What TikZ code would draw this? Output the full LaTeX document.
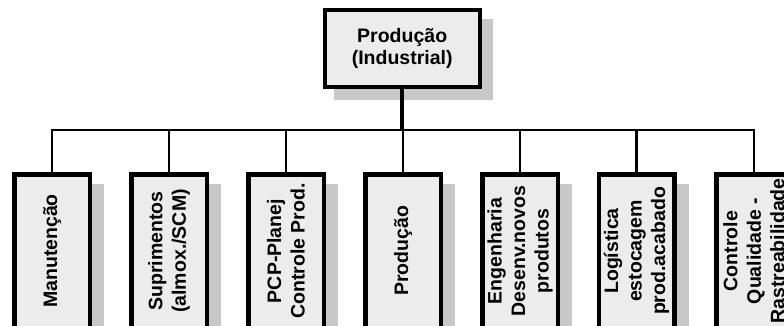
\documentclass[tikz,border=0pt]{standalone}
\usepackage{fontspec}
\setmainfont{Liberation Sans}
\usetikzlibrary{backgrounds}
\definecolor{boxfill}{HTML}{ECECEC}
\definecolor{shadowc}{HTML}{C8C8C8}
\begin{document}
\begin{tikzpicture}[x=1pt,y=-1pt,
  topbox/.style={draw=black,line width=4pt,fill=boxfill,minimum width=155pt,minimum height=76.7pt,inner sep=0pt,align=center,font=\bfseries\fontsize{19.5}{22}\selectfont},
  subbox/.style={draw=black,line width=4.5pt,fill=boxfill,rotate=90,minimum width=153.5pt,minimum height=75.5pt,inner sep=0pt,align=center,font=\bfseries\fontsize{19.5}{23.5}\selectfont},
  link/.style={line width=2.8pt},
  stemtop/.style={line width=4pt},
  shadowfill/.style={fill=shadowc}]
\useasboundingbox (0,0) rectangle (784,326);
\node[topbox] (top) at (402.2,48.6) {Produção\\(Industrial)};
\node[subbox] (b1) at (52,251) {Manutenção};
\node[subbox] (b2) at (169,251) {Suprimentos\\(almox./SCM)};
\node[subbox] (b3) at (286,251) {PCP-Planej\\Controle Prod.};
\node[subbox] (b4) at (403,251) {Produção};
\node[subbox] (b5) at (520,251) {Engenharia\\Desenv.novos\\produtos};
\node[subbox] (b6) at (636.5,251) {Logística\\estocagem\\prod.acabado};
\node[subbox] (b7) at (754,251) {Controle\\Qualidade -\\Rastreabilidade};
\coordinate (bar) at (403,130);
\draw[stemtop] (top.south) -- (top.south |- bar);
\draw[link] (b1.east) -- (b1.east |- bar) -- (b7.east |- bar) -- (b7.east);
\foreach \b in {b2,b3,b4,b5,b6}{
  \draw[link] (\b.east) -- (\b.east |- bar);
}
\begin{pgfonlayer}{background}
\fill[shadowfill] ([shift={(11,11)}]top.south west) rectangle ([shift={(11,11)}]top.north east);
\foreach \b in {b1,b2,b3,b4,b5,b6,b7}{
  \fill[shadowfill] ([shift={(12,12)}]\b.north east) rectangle ([shift={(12,12)}]\b.south west);
}
\end{pgfonlayer}
\end{tikzpicture}
\end{document}
